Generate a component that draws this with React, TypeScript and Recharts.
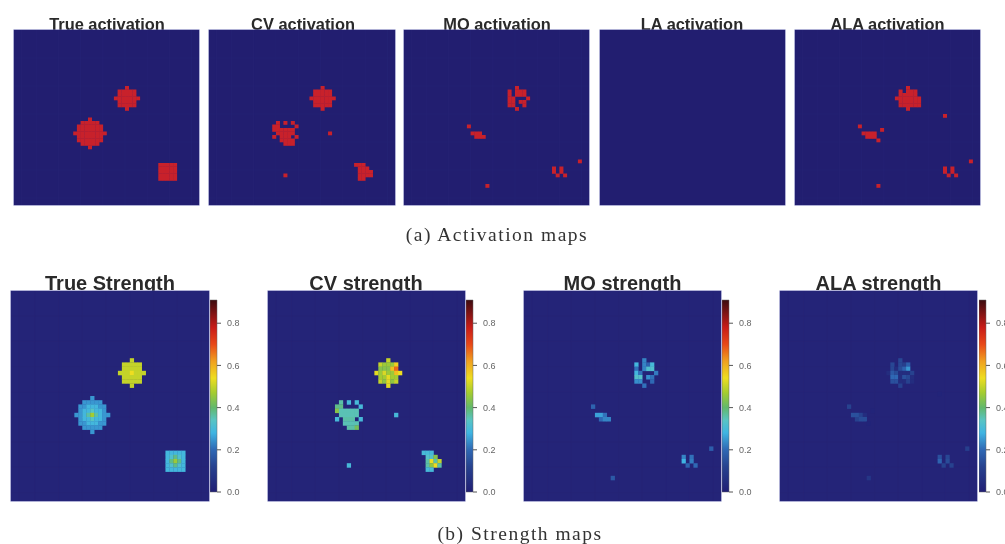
import { BarChart, Bar, CartesianGrid, ScatterChart, Scatter, XAxis, YAxis } from "recharts";

// [row, fromCol, toCol, strength] on the 50x50 image grid, later spans overwrite earlier ones
type Span = [number, number, number, number];

const TRUE_CELLS: Span[] = [
  // upper blob
  [16, 30, 30, 0.5], [17, 28, 32, 0.5], [18, 28, 32, 0.5], [19, 27, 33, 0.5],
  [20, 28, 32, 0.5], [21, 28, 32, 0.5], [22, 30, 30, 0.5], [19, 30, 30, 0.54],
  // left blob
  [25, 20, 20, 0.25], [26, 18, 22, 0.25], [27, 17, 23, 0.25], [28, 17, 23, 0.25],
  [29, 16, 24, 0.25], [30, 17, 23, 0.25], [31, 17, 23, 0.25], [32, 18, 22, 0.25],
  [33, 20, 20, 0.25],
  [27, 19, 21, 0.29], [28, 18, 22, 0.29], [29, 18, 22, 0.29], [30, 18, 22, 0.29], [31, 19, 21, 0.29],
  [28, 20, 20, 0.34], [29, 19, 21, 0.36], [30, 20, 20, 0.34], [29, 20, 20, 0.47],
  // square
  [38, 39, 43, 0.29], [39, 39, 43, 0.29], [40, 39, 43, 0.29], [41, 39, 43, 0.29], [42, 39, 43, 0.29],
  [39, 40, 42, 0.32], [40, 40, 42, 0.32], [41, 40, 42, 0.32],
  [39, 41, 41, 0.38], [40, 40, 42, 0.38], [41, 41, 41, 0.38], [40, 41, 41, 0.46],
];

const CV_CELLS: Span[] = [
  [16, 30, 30, 0.5], [17, 28, 32, 0.46], [18, 28, 32, 0.44], [19, 27, 33, 0.46],
  [20, 28, 32, 0.47], [21, 28, 32, 0.45], [22, 30, 30, 0.53],
  [17, 28, 28, 0.5], [17, 32, 32, 0.56], [18, 31, 31, 0.58], [18, 32, 32, 0.67],
  [19, 27, 27, 0.53], [19, 29, 29, 0.52], [19, 33, 33, 0.54], [19, 32, 32, 0.58],
  [20, 30, 30, 0.53], [21, 30, 30, 0.53], [21, 28, 28, 0.5], [21, 32, 32, 0.5],
  [26, 18, 18, 0.36], [26, 20, 20, 0.3], [26, 22, 22, 0.3],
  [27, 17, 18, 0.38], [27, 23, 23, 0.3],
  [28, 17, 22, 0.35], [28, 17, 17, 0.44],
  [29, 18, 22, 0.35], [30, 17, 17, 0.3], [30, 19, 21, 0.36], [30, 23, 23, 0.3],
  [31, 19, 22, 0.35], [32, 20, 21, 0.36], [32, 22, 22, 0.42],
  [29, 32, 32, 0.3], [41, 20, 20, 0.3],
  [38, 39, 41, 0.3], [39, 40, 42, 0.33], [40, 40, 43, 0.36], [41, 40, 43, 0.36], [42, 40, 41, 0.3],
  [39, 42, 42, 0.44], [40, 41, 41, 0.54], [40, 43, 43, 0.5], [41, 42, 42, 0.54], [41, 41, 41, 0.45],
];

const MO_CELLS: Span[] = [
  [16, 30, 30, 0.23], [17, 28, 28, 0.29], [17, 30, 30, 0.23], [17, 31, 31, 0.19], [17, 32, 32, 0.3],
  [18, 28, 28, 0.21], [18, 30, 30, 0.23], [18, 31, 32, 0.32], [19, 28, 28, 0.29], [19, 29, 29, 0.21],
  [19, 33, 33, 0.22], [20, 28, 29, 0.33], [20, 31, 31, 0.24], [20, 32, 32, 0.21],
  [21, 28, 29, 0.24], [21, 32, 32, 0.2], [22, 30, 30, 0.21],
  [27, 17, 17, 0.19], [29, 18, 19, 0.26], [29, 20, 20, 0.21], [30, 19, 19, 0.2], [30, 20, 21, 0.23],
  [37, 47, 47, 0.18], [39, 40, 40, 0.23], [40, 40, 40, 0.28], [39, 42, 42, 0.21], [40, 42, 42, 0.22],
  [41, 41, 41, 0.19], [41, 43, 43, 0.2], [44, 22, 22, 0.17],
];

const ALA_CELLS: Span[] = [
  [16, 30, 30, 0.13], [17, 28, 28, 0.13], [17, 30, 30, 0.13], [17, 31, 31, 0.11], [17, 32, 32, 0.18],
  [18, 28, 29, 0.05], [18, 28, 28, 0.13], [18, 30, 30, 0.14], [18, 31, 31, 0.19], [18, 32, 32, 0.25],
  [19, 27, 33, 0.05], [19, 28, 28, 0.17], [19, 29, 29, 0.14], [19, 33, 33, 0.12],
  [20, 28, 33, 0.05], [20, 28, 29, 0.2], [20, 31, 31, 0.15], [20, 32, 32, 0.13],
  [21, 28, 33, 0.05], [21, 28, 29, 0.15], [21, 32, 32, 0.12], [22, 30, 30, 0.12],
  [24, 40, 40, 0.02], [27, 17, 17, 0.12], [28, 23, 23, 0.02],
  [29, 18, 21, 0.05], [29, 18, 19, 0.15], [29, 20, 20, 0.12], [30, 19, 19, 0.12], [30, 20, 21, 0.14], [31, 22, 22, 0.02],
  [37, 47, 47, 0.11], [39, 40, 40, 0.15], [40, 40, 40, 0.19], [39, 42, 42, 0.13], [40, 42, 42, 0.14],
  [41, 41, 41, 0.12], [41, 43, 43, 0.12], [44, 22, 22, 0.08],
];

const LA_CELLS: Span[] = [];

const BAR_TICKS = [0, 0.2, 0.4, 0.6, 0.8];
const BAR_MAX = 0.91;
const GRID_LINES = [2, 4, 6, 8, 10, 12, 14, 16, 18, 20, 22, 24, 26, 28, 30, 32, 34, 36, 38, 40, 42, 44, 46, 48];

const JET: [number, string][] = [
  [0, "#211e74"],
  [0.12, "#27428f"],
  [0.2, "#2f68b4"],
  [0.28, "#3fb4e2"],
  [0.34, "#58c4c4"],
  [0.4, "#62b86c"],
  [0.47, "#a4cc30"],
  [0.54, "#eedd20"],
  [0.62, "#f0a020"],
  [0.7, "#e84818"],
  [0.78, "#c81c18"],
  [0.91, "#3c0c10"],
];

const NAVY = "#221e70";
const NAVY_STRENGTH = "#242478";
const RED = "#c8212b";
const FRAME = "#5f60aa";

function hex(c: string, i: number) {
  return parseInt(c.slice(1 + i * 2, 3 + i * 2), 16);
}

function jetColor(v: number) {
  for (let i = 1; i < JET.length; i++) {
    if (v <= JET[i][0]) {
      const t = (v - JET[i - 1][0]) / (JET[i][0] - JET[i - 1][0]);
      const rgb = [0, 1, 2].map((k) => Math.round(hex(JET[i - 1][1], k) * (1 - t) + hex(JET[i][1], k) * t));
      return `rgb(${rgb.join(",")})`;
    }
  }
  return JET[JET.length - 1][1];
}

// expands the spans to one point per cell, keeping the last value written
function toPoints(spans: Span[]) {
  const cells = new Map<string, { x: number; y: number; v: number }>();
  spans.forEach(([row, from, to, v]) => {
    for (let col = from; col <= to; col++) {
      cells.set(`${col}-${row}`, { x: col + 0.5, y: row + 0.5, v });
    }
  });
  return [...cells.values()];
}

function HeatMap({
  left,
  top,
  width,
  height,
  spans,
  color,
  background,
}: {
  left: number;
  top: number;
  width: number;
  height: number;
  spans: Span[];
  color: (v: number) => string;
  background: string;
}) {
  const w = width / 50;
  const h = height / 50;
  return (
    <div style={{ position: "absolute", left, top, boxShadow: `0 0 0 0.5px ${FRAME}` }}>
      <ScatterChart
        width={width}
        height={height}
        margin={{ top: 0, right: 0, bottom: 0, left: 0 }}
        style={{ background }}
      >
        <CartesianGrid stroke="#272476" strokeWidth={0.6} horizontalValues={GRID_LINES} verticalValues={GRID_LINES} />
        <XAxis type="number" dataKey="x" domain={[0, 50]} hide />
        <YAxis type="number" dataKey="y" domain={[0, 50]} reversed hide />
        <Scatter
          data={toPoints(spans)}
          isAnimationActive={false}
          shape={(p: any) => (
            <rect x={p.cx - w / 2} y={p.cy - h / 2} width={w + 0.3} height={h + 0.3} fill={color(p.payload.v)} />
          )}
        />
      </ScatterChart>
    </div>
  );
}

function ColorBar({ left, id }: { left: number; id: string }) {
  return (
    <div style={{ position: "absolute", left, top: 296 }}>
      <BarChart
        width={60}
        height={200}
        data={[{ name: "strength", top: BAR_MAX }]}
        margin={{ top: 4, right: 29, bottom: 4, left: 0 }}
        barCategoryGap={0}
      >
        <defs>
          <linearGradient id={id} x1="0" y1="1" x2="0" y2="0">
            {JET.map(([v, c]) => (
              <stop key={v} offset={v / BAR_MAX} stopColor={c} />
            ))}
          </linearGradient>
        </defs>
        <XAxis dataKey="name" hide />
        <YAxis
          orientation="right"
          width={24}
          domain={[0, BAR_MAX]}
          ticks={BAR_TICKS}
          interval={0}
          tickFormatter={(v: number) => v.toFixed(1)}
          tick={{ fontSize: 9, fill: "#666", fontFamily: "Liberation Sans" }}
          tickSize={4}
          tickMargin={6}
          tickLine={{ stroke: "#555" }}
          axisLine={false}
        />
        <Bar dataKey="top" fill={`url(#${id})`} stroke="#666" strokeWidth={0.5} isAnimationActive={false} />
      </BarChart>
    </div>
  );
}

function Title({ text, cx, top, size }: { text: string; cx: number; top: number; size: number }) {
  return (
    <div
      style={{
        position: "absolute",
        left: cx - 120,
        width: 240,
        top,
        textAlign: "center",
        fontFamily: "Liberation Sans",
        fontWeight: 700,
        fontSize: size,
        lineHeight: `${size + 4}px`,
        color: "#2a2a2a",
      }}
    >
      {text}
    </div>
  );
}

function Caption({ text, cx, top }: { text: string; cx: number; top: number }) {
  return (
    <div
      style={{
        position: "absolute",
        left: cx - 150,
        width: 300,
        top,
        textAlign: "center",
        fontFamily: "Liberation Serif",
        fontSize: 19.5,
        letterSpacing: 1.5,
        lineHeight: "20px",
        color: "#333",
      }}
    >
      {text}
    </div>
  );
}

const activation = () => RED;

export default function App() {
  return (
    <div
      style={{
        position: "absolute",
        left: 0,
        top: 0,
        width: 1005,
        height: 544,
        overflow: "hidden",
        background: "#fff",
        filter: "blur(0.7px)",
      }}
    >
      <Title text="True activation" cx={107} top={14} size={16.4} />
      <Title text="CV activation" cx={303} top={14} size={16.4} />
      <Title text="MO activation" cx={497} top={14} size={16.4} />
      <Title text="LA activation" cx={692} top={14} size={16.4} />
      <Title text="ALA activation" cx={887.5} top={14} size={16.4} />

      <HeatMap left={14} top={30} width={185} height={175} spans={TRUE_CELLS} color={activation} background={NAVY} />
      <HeatMap left={209} top={30} width={186} height={175} spans={CV_CELLS} color={activation} background={NAVY} />
      <HeatMap left={404} top={30} width={185} height={175} spans={MO_CELLS} color={activation} background={NAVY} />
      <HeatMap left={600} top={30} width={185} height={175} spans={LA_CELLS} color={activation} background={NAVY} />
      <HeatMap left={795} top={30} width={185} height={175} spans={ALA_CELLS} color={activation} background={NAVY} />

      <Caption text="(a) Activation maps" cx={497} top={225} />

      <Title text="True Strength" cx={110} top={271} size={20} />
      <Title text="CV strength" cx={366} top={271} size={20} />
      <Title text="MO strength" cx={622.5} top={271} size={20} />
      <Title text="ALA strength" cx={878.5} top={271} size={20} />

      <HeatMap left={11} top={291} width={198} height={210} spans={TRUE_CELLS} color={jetColor} background={NAVY_STRENGTH} />
      <HeatMap left={268} top={291} width={197} height={210} spans={CV_CELLS} color={jetColor} background={NAVY_STRENGTH} />
      <HeatMap left={524} top={291} width={197} height={210} spans={MO_CELLS} color={jetColor} background={NAVY_STRENGTH} />
      <HeatMap left={780} top={291} width={197} height={210} spans={ALA_CELLS} color={jetColor} background={NAVY_STRENGTH} />

      <ColorBar left={210} id="jet1" />
      <ColorBar left={466} id="jet2" />
      <ColorBar left={722} id="jet3" />
      <ColorBar left={979} id="jet4" />

      <Caption text="(b) Strength maps" cx={520} top={524} />
    </div>
  );
}
